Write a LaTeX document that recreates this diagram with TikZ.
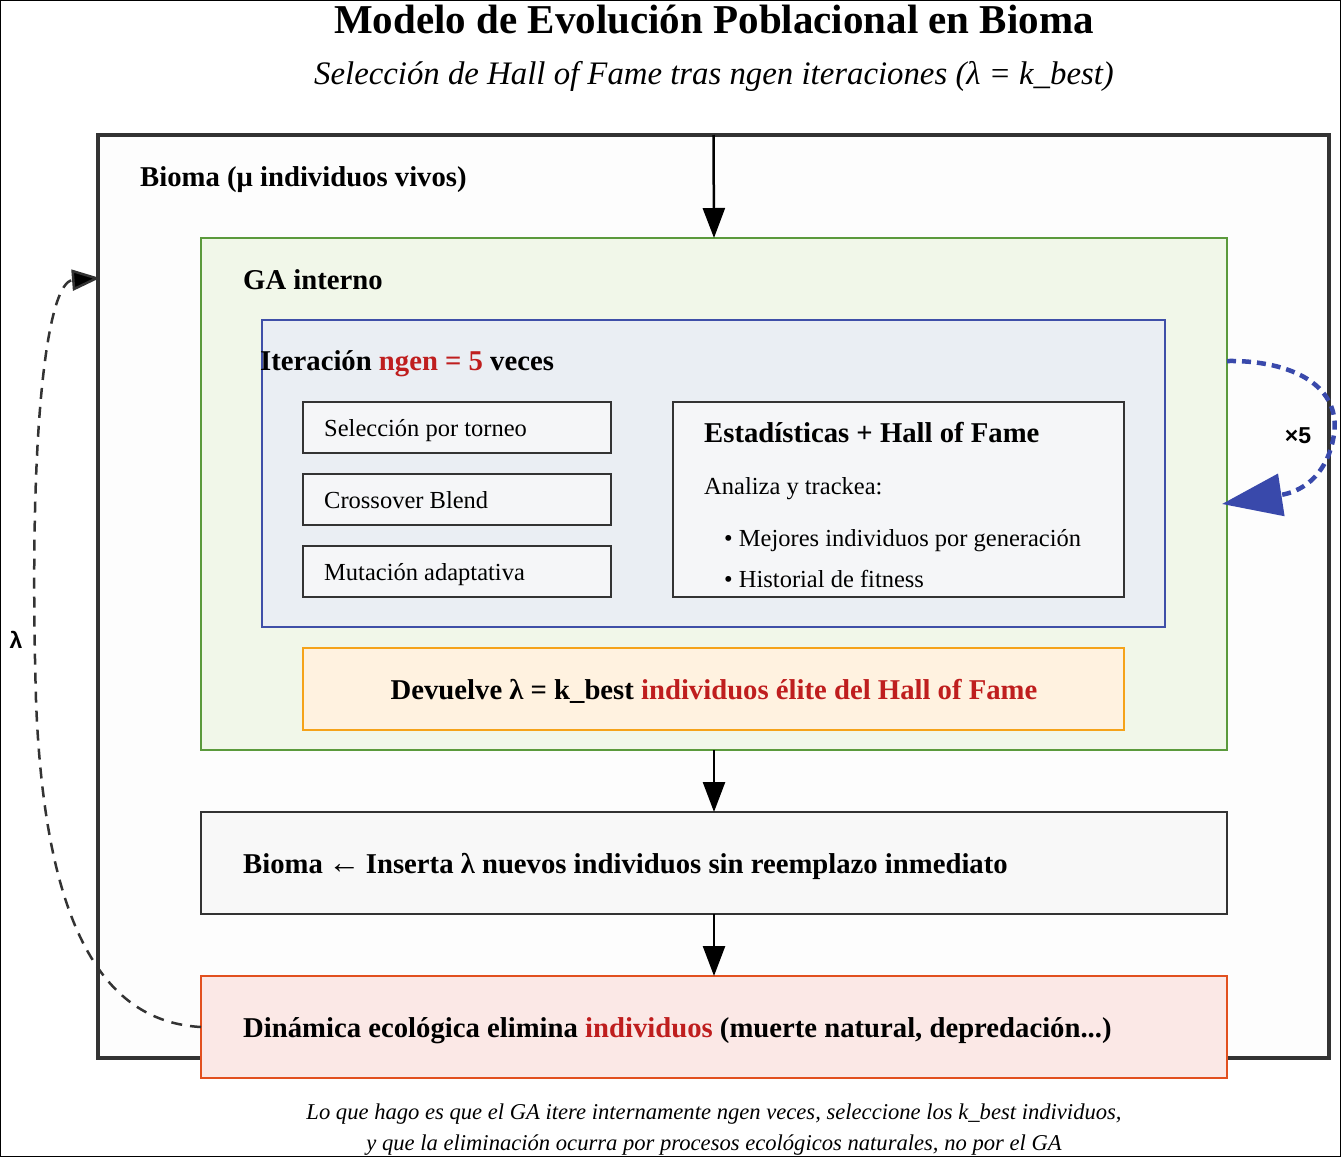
\documentclass[tikz,border=0pt]{standalone}
\usepackage{fontspec}
\setmainfont{Liberation Serif}
\newfontfamily\lsans{Liberation Sans}
\usetikzlibrary{arrows.meta}
\definecolor{dk}{HTML}{333333}
\definecolor{grn}{HTML}{5B9A3C}
\definecolor{grnf}{HTML}{F1F7E9}
\definecolor{blu}{HTML}{3F4FA8}
\definecolor{bluf}{HTML}{EAEEF3}
\definecolor{loopb}{HTML}{3949AB}
\definecolor{org}{HTML}{F5A31A}
\definecolor{orgf}{HTML}{FFF2E0}
\definecolor{redS}{HTML}{E2501F}
\definecolor{redF}{HTML}{FBE8E6}
\definecolor{redT}{HTML}{BF1E1E}
\definecolor{smf}{HTML}{F5F6F8}
\definecolor{insf}{HTML}{F8F8F8}
\definecolor{biof}{HTML}{FDFDFD}
\tikzset{
  box/.style={rectangle, inner sep=0pt, outer sep=0pt},
  lbl/.style={inner sep=0pt, anchor=base west},
  bigb/.style={font=\fontsize{28.7}{32}\selectfont\bfseries},
  smallt/.style={font=\fontsize{24.5}{28}\selectfont},
  flow/.style={line width=2.5pt, black, -{Triangle[length=30pt,width=22pt]}},
}
\begin{document}
\begin{tikzpicture}[x=1pt,y=-1pt]
\useasboundingbox (0,0) rectangle (1341,1157);
\draw[black, line width=1.2pt] (0.6,0.6) rectangle (1340.4,1156.4);

% titles
\node[inner sep=0pt, anchor=base, font=\fontsize{41}{44}\selectfont\bfseries] (title) at (714,33) {Modelo de Evolución Poblacional en Bioma};
\node[inner sep=0pt, anchor=base, font=\fontsize{32.8}{36}\selectfont\itshape] (sub) at (714,84) {Selección de Hall of Fame tras ngen iteraciones (λ = k\_best)};

% Bioma
\node[box, draw=dk, line width=3.5pt, fill=biof, minimum width=1231pt, minimum height=923pt] (bioma) at (713.5,596.5) {};
\node[lbl, bigb] (biomaL) at (140,186) {Bioma (μ individuos vivos)};

% GA
\node[box, draw=grn, line width=1.8pt, fill=grnf, minimum width=1026pt, minimum height=512pt] (ga) at (714,494) {};
\node[lbl, bigb] (gaL) at (243,289) {GA interno};

% Iteration
\node[box, draw=blu, line width=1.8pt, fill=bluf, minimum width=903pt, minimum height=307pt] (iter) at (713.5,473.5) {};
\node[lbl, bigb] (iterL) at (260,370) {Iteración \textcolor{redT}{ngen = 5} veces};

\tikzset{sm/.style={box, draw=dk, line width=1.8pt, fill=smf, minimum width=308pt, minimum height=51pt}}
\node[sm] (s1) at (457,427.5) {};
\node[sm] (s2) at (457,499.5) {};
\node[sm] (s3) at (457,571.5) {};
\node[lbl, smallt] (s1L) at (324,436) {Selección por torneo};
\node[lbl, smallt] (s2L) at (324,508) {Crossover Blend};
\node[lbl, smallt] (s3L) at (324,580) {Mutación adaptativa};

\node[box, draw=dk, line width=1.8pt, fill=smf, minimum width=451pt, minimum height=195pt] (stats) at (898.5,499.5) {};
\node[lbl, bigb] (stT) at (704,442) {Estadísticas + Hall of Fame};
\node[lbl, smallt] (stA) at (704,494) {Analiza y trackea:};
\node[lbl, smallt] (stB) at (724,546) {• Mejores individuos por generación};
\node[lbl, smallt] (stC) at (724,587) {• Historial de fitness};

% Devuelve
\node[box, draw=org, line width=1.8pt, fill=orgf, minimum width=821pt, minimum height=82pt] (dev) at (713.5,689) {};
\node[inner sep=0pt, anchor=base, bigb] (devL) at (714,699) {Devuelve λ = k\_best \textcolor{redT}{individuos élite del Hall of Fame}};

% Inserta
\node[box, draw=dk, line width=1.8pt, fill=insf, minimum width=1026pt, minimum height=102pt] (ins) at (714,863) {};
\node[lbl, bigb] (insL) at (243,873) {Bioma\hspace{5.5pt}{\fontsize{32}{34}\selectfont\mdseries ←}\hspace{5.5pt}Inserta λ nuevos individuos sin reemplazo inmediato};

% Dinamica
\node[box, draw=redS, line width=1.8pt, fill=redF, minimum width=1026pt, minimum height=102pt] (din) at (714,1027) {};
\node[lbl, bigb] (dinL) at (243,1037) {Dinámica ecológica elimina \textcolor{redT}{individuos} (muerte natural, depredación...)};

% flow arrows
\draw[flow] (bioma.north) -- (ga.north);
\draw[flow] (ga.south) -- (ins.north);
\draw[flow] (ins.south) -- (din.north);

% x5 loop
\coordinate (loopS) at (1227,361);
\coordinate (loopE) at (1222,504);
\draw[loopb, line width=4.5pt, dash pattern=on 9pt off 6pt, -{Triangle[length=60pt,width=42pt]}]
  (loopS) .. controls (1290,360) and (1345,385) .. (1333,440)
  .. controls (1325,478) and (1300,492) .. (loopE);
\node[inner sep=0pt, font=\lsans\fontsize{23}{26}\selectfont\bfseries] (x5) at (1298,436) {×5};

% lambda loop
\coordinate (lamE) at (100,278);
\draw[dk, line width=2.5pt, dash pattern=on 11pt off 8pt, -{Triangle[length=28pt,width=21pt,fill=black]}]
  (din.west) .. controls (110,1022) and (45,940) .. (36,700)
  .. controls (28,420) and (48,282) .. (lamE);
\node[inner sep=0pt, font=\lsans\fontsize{23}{26}\selectfont\bfseries] (lam) at (16,640) {λ};

% footer
\node[inner sep=0pt, anchor=base, font=\fontsize{22.6}{26}\selectfont\itshape] (f1) at (714,1119) {Lo que hago es que el GA itere internamente ngen veces, seleccione los k\_best individuos,};
\node[inner sep=0pt, anchor=base, font=\fontsize{22.6}{26}\selectfont\itshape] (f2) at (714,1150) {y que la eliminación ocurra por procesos ecológicos naturales, no por el GA};
\end{tikzpicture}
\end{document}
